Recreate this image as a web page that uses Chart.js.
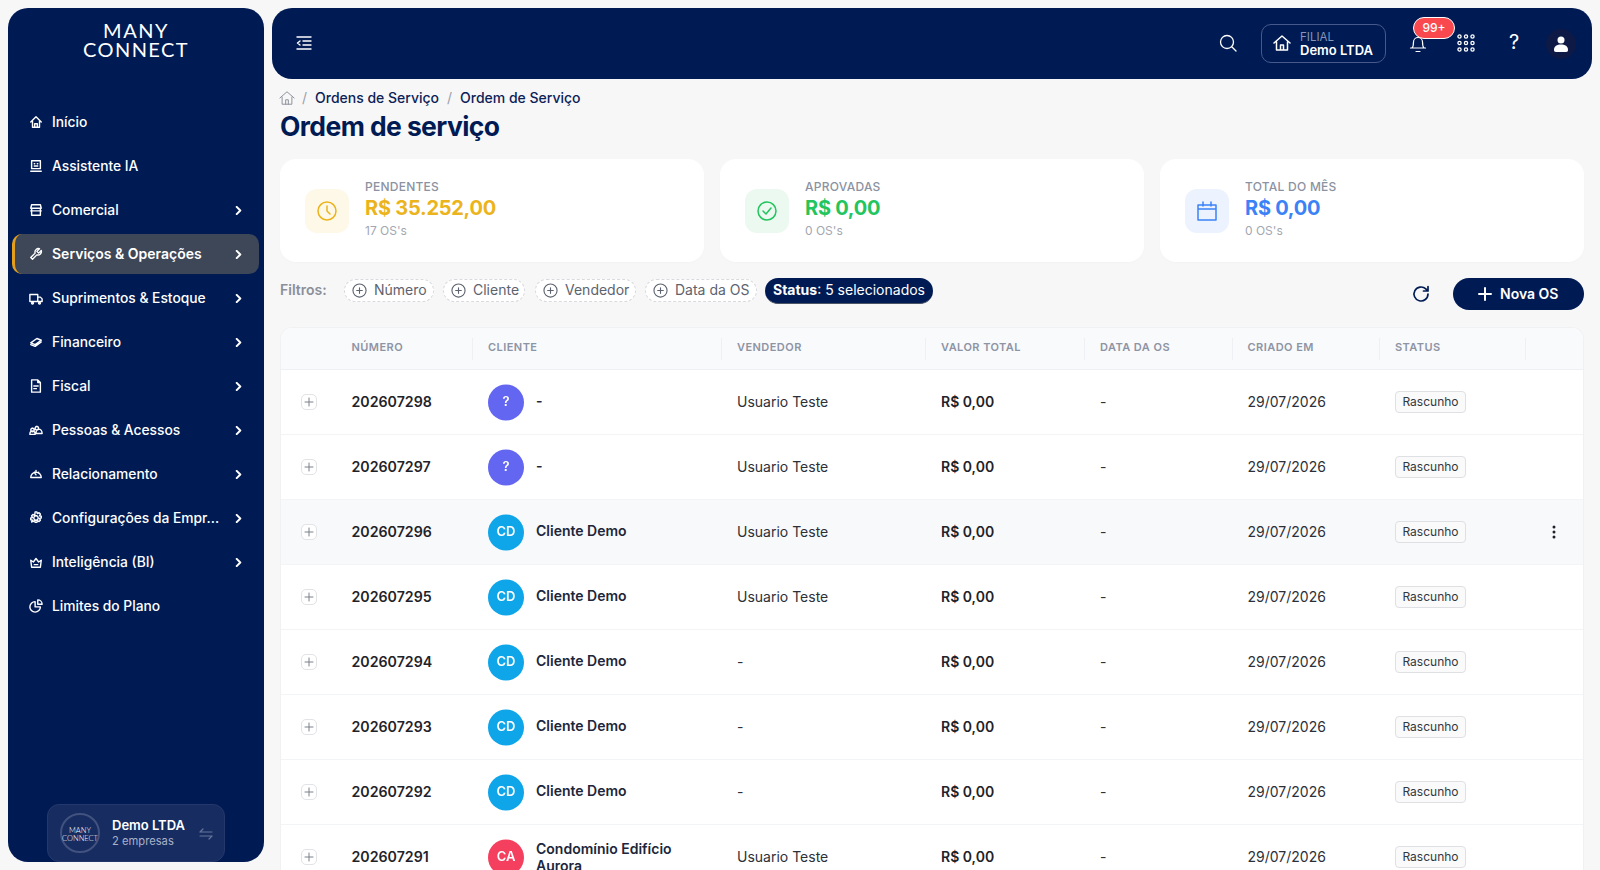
<!DOCTYPE html>
<html lang="pt-BR">
<head>
<meta charset="utf-8">
<title>Ordem de serviço</title>
<script src="https://cdn.jsdelivr.net/npm/chart.js@4/dist/chart.umd.js"></script>
<style>
    * { box-sizing: border-box; }
    html, body { margin: 0; width: 1600px; height: 870px; overflow: hidden; background: #f7f7f8; font-family: Inter, sans-serif; color: #1f2329; }
    .abs, .abs > * { position: absolute; }
    .abs > #menu, .abs > #cards, .abs > #chips { left: 0; top: 0; }
    svg { fill: none; stroke: currentColor; stroke-width: 1.5; stroke-linecap: round; stroke-linejoin: round; }

    #sidebar { left: 8px; top: 8px; width: 256px; height: 854px; background: #001b54; border-radius: 20px; }
    .logo { left: 0; width: 256px; text-align: center; color: #fff; font: 400 20px/17px Lato, sans-serif; }
    .menu { position: absolute; left: 4px; width: 247px; height: 40px; border-radius: 10px; color: #fff; font-size: 13.8px; font-weight: 500; line-height: 40px; }
    .menu.on { background: #3e4758; border-left: 3px solid #e39f1c; font-size: 14px; font-weight: 600; }
    .menu span { position: absolute; left: 40px; white-space: nowrap; }
    .menu.on span { left: 37px; }
    .menu svg { position: absolute; left: 17px; top: 13px; width: 14px; height: 14px; stroke-width: 1.6; }
    .menu.on svg { left: 14px; }
    .menu .chev { left: 222px; top: 16px; width: 9px; height: 9px; stroke-width: 2.2; }
    .menu.on .chev { left: 219px; }
    #empresa { left: 39px; top: 796px; width: 178px; height: 58px; background: #172c61; border: 1px solid #25386b; border-radius: 12px; color: #fff; }
    #empresa .circ { position: absolute; left: 12px; top: 8px; width: 40px; height: 40px; border: 2px solid #42527e; border-radius: 50%; text-align: center; font: 300 7.5px/8px Lato, sans-serif; padding-top: 12px; }

    #topbar { left: 272px; top: 8px; width: 1320px; height: 71px; background: #001b54; border-radius: 20px; color: #fff; }
    #filial { left: 989px; top: 16px; width: 125px; height: 39px; border: 1px solid #47598a; border-radius: 10px; }
    #badge { left: 1141px; top: 9px; width: 42px; height: 22px; background: #f9494f; border: 1px solid #fff; border-radius: 11px; font-size: 12px; font-weight: 500; line-height: 20px; text-align: center; }
    #user { left: 1274px; top: 21px; width: 30px; height: 30px; background: #0e1a45; border-radius: 50%; }

    .crumb { top: 89px; font-size: 14px; font-weight: 500; line-height: 18px; color: #0c2257; white-space: nowrap; }
    .sep { color: #9aa0aa; font-weight: 400; }
    #titulo { left: 280px; top: 109px; font-size: 26.5px; font-weight: 700; letter-spacing: -0.6px; line-height: 34px; color: #001b54; white-space: nowrap; }

    .card { position: absolute; top: 159px; width: 424px; height: 103px; background: #fff; border-radius: 16px; box-shadow: 0 1px 3px rgba(0, 0, 0, .02); }
    .tile { position: absolute; left: 25px; top: 30px; width: 44px; height: 44px; border-radius: 12px; }
    .tile svg { position: absolute; left: 11px; top: 11px; width: 22px; height: 22px; }
    .card .lb { position: absolute; left: 85px; top: 20px; font-size: 12px; line-height: 15px; font-weight: 500; letter-spacing: .25px; color: #8b92a1; white-space: nowrap; }
    .card .val { position: absolute; left: 85px; top: 36px; font-size: 20px; line-height: 26px; font-weight: 700; letter-spacing: -0.25px; white-space: nowrap; }
    .card .sub { position: absolute; left: 85px; top: 64px; font-size: 12px; line-height: 16px; color: #a2a7b2; white-space: nowrap; }

    #filtros { left: 280px; top: 281px; font-size: 14px; font-weight: 600; line-height: 18px; color: #8a8f99; }
    .chip { position: absolute; top: 279px; height: 23px; background: #fff; border: 1px dashed #d9dadd; border-radius: 12px; font-size: 14px; line-height: 20px; color: #5d636e; white-space: nowrap; padding-left: 29px; }
    .chip svg { position: absolute; left: 7px; top: 3px; width: 15px; height: 15px; stroke-width: 1.2; }
    #status { left: 765px; top: 278px; width: 168px; height: 26px; background: #001b54; border-bottom: 1.5px solid #4c5566; border-radius: 13px; color: #fff; font-size: 14px; line-height: 24px; text-align: center; white-space: nowrap; }
    #nova { left: 1453px; top: 278px; width: 131px; height: 32px; background: #001b54; border-radius: 16px; color: #fff; font-size: 14px; font-weight: 600; line-height: 32px; padding-left: 47px; }
    #nova svg { position: absolute; left: 25px; top: 9px; width: 14px; height: 14px; stroke-width: 2; }

    #tabela { left: 280px; top: 327px; width: 1304px; height: 543px; background: #fff; border: 1px solid #f0f1f3; border-bottom: 0; border-radius: 12px 12px 0 0; overflow: hidden; }
    #cab { position: absolute; left: 0; top: 0; width: 1304px; height: 42px; background: #f9fafc; border-bottom: 1px solid #eef0f3; }
    #cab b { position: absolute; top: 12px; font-size: 11px; line-height: 14px; font-weight: 600; letter-spacing: .45px; color: #8d94a4; white-space: nowrap; }
    #cab i { position: absolute; top: 10px; width: 1px; height: 22px; background: #eef0f3; }
    #corpo { position: absolute; left: 0; top: 42px; width: 1304px; height: 520px; }
    .linha { position: absolute; left: 0; width: 1304px; height: 65px; border-bottom: 1px solid #f3f4f6; font-size: 14px; }
    .linha.hover { background: #f8f9fb; }
    .linha > * { position: absolute; top: 0; line-height: 64px; white-space: nowrap; }
    .linha .exp { left: 20px; top: 24px; width: 16px; height: 16px; background: #fff; border: 1px solid #e2e3e6; border-radius: 5px; color: #7b808a; }
    .linha .exp svg { position: absolute; left: 2px; top: 2px; width: 10px; height: 10px; stroke-width: 1; }
    .linha .num { left: 70.5px; font-size: 14.2px; font-weight: 600; }
    .linha .ini { left: 207px; width: 36px; text-align: center; color: #fff; font-size: 13px; font-weight: 600; line-height: 62px; z-index: 2; }
    .linha .nome { left: 255px; width: 165px; white-space: normal; font-weight: 600; color: #20263a; line-height: 62px; }
    .linha .nome.duas { top: 15px; line-height: 17px; }
    .linha .ven { left: 456px; color: #2c3038; }
    .linha .tot { left: 660px; font-weight: 600; }
    .linha .dat { left: 819px; color: #2c3038; }
    .linha .cri { left: 966.500px; color: #2c3038; }
    .linha .st { left: 1114px; top: 21px; width: 71px; height: 22px; background: #fafafa; border: 1px solid #dfe0e3; border-radius: 4px; font-size: 12px; line-height: 20px; text-align: center; color: #33373e; }
    .linha .dots { left: 1271px; top: 24px; width: 4px; height: 16px; }
    #avatares { position: absolute; left: 195px; top: 0; z-index: 1; pointer-events: none; }
</style>
</head>
<body>
<div class="abs" style="inset:0">
    <div id="sidebar" class="abs">
        <div class="logo" style="top:14px;letter-spacing:1.5px">MANY</div>
        <div class="logo" style="top:33px;letter-spacing:1.4px">CONNECT</div>
        <div id="menu"></div>
        <div id="empresa">
            <div class="circ">MANY<br>CONNECT</div>
            <div style="position:absolute;left:64px;top:12px;font-size:13px;font-weight:600;line-height:16px;white-space:nowrap">Demo LTDA</div>
            <div style="position:absolute;left:64px;top:29px;font-size:11.2px;line-height:15px;color:#a9b1c8;white-space:nowrap">2 empresas</div>
            <svg style="position:absolute;left:151px;top:22px;width:14px;height:14px;color:#66749b;stroke-width:1.2" viewBox="0 0 14 14"><path d="M1 5h12M4 2 1 5M1 9h12M10 12l3-3"/></svg>
        </div>
    </div>

    <div id="topbar" class="abs">
        <svg style="left:24px;top:28px;width:16px;height:14px;stroke-width:1.4" viewBox="0 0 16 14"><path d="M1 1h14M7 5h8M7 9h8M1 13h14M4 5 1.5 7 4 9"/></svg>
        <svg style="left:947px;top:26px;width:18px;height:18px;stroke-width:1.3" viewBox="0 0 18 18"><circle cx="8" cy="8" r="6.5"/><path d="m13 13 4 4"/></svg>
        <div id="filial"></div>
        <svg style="left:1001px;top:26px;width:18px;height:18px" viewBox="0 0 18 18"><path d="M1 9 9 2l8 7M3.500 8v8h11V8M7.500 16v-5h3v5"/></svg>
        <div style="left:1028px;top:22px;font-size:11.5px;line-height:14px;color:#8795b6">FILIAL</div>
        <div style="left:1028px;top:34px;font-size:13px;font-weight:600;line-height:16px;white-space:nowrap">Demo LTDA</div>
        <svg style="left:1137px;top:26px;width:18px;height:20px;stroke-width:1.2" viewBox="0 0 18 20"><path d="M3 14c1.500-1.500 1.500-4 1.500-6a4.500 4.500 0 0 1 9 0c0 2 0 4.500 1.500 6zM1.500 14h15M7 17.500h4"/></svg>
        <div id="badge">99+</div>
        <svg style="left:1185px;top:26px;width:18px;height:18px;stroke-width:1.3" viewBox="0 0 18 18"><circle cx="2.500" cy="2.500" r="1.600"/><circle cx="9" cy="2.500" r="1.600"/><circle cx="15.500" cy="2.500" r="1.600"/><circle cx="2.500" cy="9" r="1.600"/><circle cx="9" cy="9" r="1.600"/><circle cx="15.500" cy="9" r="1.600"/><circle cx="2.500" cy="15.500" r="1.600"/><circle cx="9" cy="15.500" r="1.600"/><circle cx="15.500" cy="15.500" r="1.600"/></svg>
        <div style="left:1237px;top:21px;font-size:20px;line-height:26px">?</div>
        <div id="user"></div>
        <svg style="left:1282px;top:28px;width:14px;height:16px;fill:#fff;stroke:none" viewBox="0 0 14 16"><circle cx="7" cy="4" r="3.500"/><path d="M0 14c0-4 3-5.500 7-5.500s7 1.500 7 5.500c0 1-.5 2-2 2H2c-1.500 0-2-1-2-2z"/></svg>
    </div>

    <svg style="left:279px;top:90px;width:16px;height:16px;color:#8b9099;stroke-width:1.1" viewBox="0 0 18 18"><path d="M1 9 9 2l8 7M3.500 8v8h11V8M7.500 16v-5h3v5"/></svg>
    <div class="crumb sep" style="left:302px">/</div>
    <div class="crumb" style="left:315px">Ordens de Serviço</div>
    <div class="crumb sep" style="left:447px">/</div>
    <div class="crumb" style="left:460px">Ordem de Serviço</div>
    <div id="titulo">Ordem de serviço</div>

    <div id="cards"></div>

    <div id="filtros">Filtros:</div>
    <div id="chips"></div>
    <div id="status"><b style="font-weight:700">Status</b>: 5 selecionados</div>
    <svg style="left:1412px;top:285px;width:18px;height:18px;color:#001b54;stroke-width:1.7" viewBox="0 0 18 18"><path d="M16 9a7 7 0 1 1-2.200-5.100L16 6M16 1.500V6h-4.500"/></svg>
    <div id="nova"><svg viewBox="0 0 14 14"><path d="M7 1v12M1 7h12"/></svg>Nova OS</div>

    <div id="tabela">
        <div id="cab"></div>
        <div id="corpo">
            <canvas id="avatares" width="60" height="520"></canvas>
        </div>
    </div>
</div>

<script>
    // menu lateral
    const menuItens = ['Início', 'Assistente IA', 'Comercial', 'Serviços & Operações', 'Suprimentos & Estoque', 'Financeiro', 'Fiscal', 'Pessoas & Acessos', 'Relacionamento', 'Configurações da Empr...', 'Inteligência (BI)', 'Limites do Plano']
    const menuComSeta = [false, false, true, true, true, true, true, true, true, true, true, false]
    const menuAtivo = 'Serviços & Operações'
    const menuIcones = [
        'M2 8l6-6 6 6M4 7v7h8V7M6.500 14v-4h3v4',
        'M3 2h10v9H3zM6 5.500h.5M9.500 5.500h.5M6 8h4M2 14h12',
        'M2 6l1-4h10l1 4zM3 6v8h10V6M2 9h12',
        'M14 4l-3 3-2-2 3-3a4 4 0 0 0-5 5L2 12l2 2 5-5a4 4 0 0 0 5-5z',
        'M1 4h9v8H1zM10 7h3l2 2v3h-5M4 13a1 1 0 1 0 .01 0M12 13a1 1 0 1 0 .01 0',
        'M2 9l7-5 5 2-7 5zM2 11l5 2 7-5',
        'M3 1h7l3 3v11H3zM10 1v3h3M5.500 8h5M5.500 11h3',
        'M4 6a2 2 0 1 0 .01 0M9 4a2 2 0 1 0 .01 0M1 13c0-3 2-4 3-4s3 1 3 4zM8 12c0-3 1-5 3-5s4 2 4 5z',
        'M2 12a6 6 0 1 1 12 0zM6 6l2 3M8 4v1M11 6v1',
        'M8 5.500a2.500 2.500 0 1 0 .01 0M7 1h2l.5 2 2-1 1.500 1.500-1 2 2 .5v2l-2 .5 1 2-1.500 1.500-2-1-.5 2H7l-.5-2-2 1L3 12.500l1-2-2-.5V8l2-.5-1-2L4.500 4l2 1z',
        'M2 6l3 2 3-4 3 4 3-2-1 8H3zM6 11h4',
        'M7 3a6 6 0 1 0 6 6H7zM10 1a5 5 0 0 1 5 5h-5z',
    ]

    // cartoes de resumo
    const resumoRotulos = ['PENDENTES', 'APROVADAS', 'TOTAL DO MÊS']
    const resumoValores = ['R$ 35.252,00', 'R$ 0,00', 'R$ 0,00']
    const resumoQtd = ["17 OS's", "0 OS's", "0 OS's"]
    const resumoCores = ['#ebb41c', '#22c55e', '#3b82f6']
    const resumoFundos = ['#fef8e8', '#ecf9f0', '#ecf3fe']

    // filtros
    const filtros = ['Número', 'Cliente', 'Vendedor', 'Data da OS']

    // tabela
    const colunas = ['NÚMERO', 'CLIENTE', 'VENDEDOR', 'VALOR TOTAL', 'DATA DA OS', 'CRIADO EM', 'STATUS']
    const numeros = ['202607298', '202607297', '202607296', '202607295', '202607294', '202607293', '202607292', '202607291']
    const iniciais = ['?', '?', 'CD', 'CD', 'CD', 'CD', 'CD', 'CA']
    const clientes = ['-', '-', 'Cliente Demo', 'Cliente Demo', 'Cliente Demo', 'Cliente Demo', 'Cliente Demo', 'Condomínio Edifício Aurora']
    const coresAvatar = ['#6366f1', '#6366f1', '#0ea5e9', '#0ea5e9', '#0ea5e9', '#0ea5e9', '#0ea5e9', '#f43f5e']
    const vendedores = ['Usuario Teste', 'Usuario Teste', 'Usuario Teste', 'Usuario Teste', '-', '-', '-', 'Usuario Teste']
    const valoresTotais = ['R$ 0,00', 'R$ 0,00', 'R$ 0,00', 'R$ 0,00', 'R$ 0,00', 'R$ 0,00', 'R$ 0,00', 'R$ 0,00']
    const datasOS = ['-', '-', '-', '-', '-', '-', '-', '-']
    const criadoEm = ['29/07/2026', '29/07/2026', '29/07/2026', '29/07/2026', '29/07/2026', '29/07/2026', '29/07/2026', '29/07/2026']
    const statusLinha = ['Rascunho', 'Rascunho', 'Rascunho', 'Rascunho', 'Rascunho', 'Rascunho', 'Rascunho', 'Rascunho']

    // ========= Partes da pagina ==========

    const svgIcone = (d, box = 16) => `<svg viewBox="0 0 ${box} ${box}"><path d="${d}"/></svg>`

    document.getElementById('menu').innerHTML = menuItens.map((nome, i) => `
        <div class="menu ${nome === menuAtivo ? 'on' : ''}" style="top:${94 + i * 44}px">
            ${svgIcone(menuIcones[i])}<span>${nome}</span>
            ${menuComSeta[i] ? '<svg class="chev" viewBox="0 0 10 10"><path d="M3 1l4 4-4 4"/></svg>' : ''}
        </div>`).join('')

    const iconesResumo = [
        '<circle cx="11" cy="11" r="9"/><path d="M11 6v5l3 3"/>',
        '<circle cx="11" cy="11" r="9"/><path d="m7 11 3 3 5-6"/>',
        '<path d="M2 5h18v15H2zM2 9h18M7 2v4M15 2v4"/>',
    ]
    const cardEsq = [280, 720, 1160]
    document.getElementById('cards').innerHTML = resumoRotulos.map((r, i) => `
        <div class="card" style="left:${cardEsq[i]}px">
            <div class="tile" style="background:${resumoFundos[i]};color:${resumoCores[i]}"><svg viewBox="0 0 22 22">${iconesResumo[i]}</svg></div>
            <div class="lb">${r}</div>
            <div class="val" style="color:${resumoCores[i]}">${resumoValores[i]}</div>
            <div class="sub">${resumoQtd[i]}</div>
        </div>`).join('')

    const chipEsq = [344, 443, 535, 645]
    const chipLarg = [90, 82, 101, 112]
    document.getElementById('chips').innerHTML = filtros.map((f, i) => `
        <div class="chip" style="left:${chipEsq[i]}px;width:${chipLarg[i]}px">
            <svg viewBox="0 0 16 16"><circle cx="8" cy="8" r="7"/><path d="M8 5v6M5 8h6"/></svg>${f}
        </div>`).join('')

    const colEsq = [70.5, 207, 456, 660, 819, 966.5, 1114]
    const sepEsq = [191, 440, 644, 803, 951, 1098, 1244]
    document.getElementById('cab').innerHTML =
        colunas.map((c, i) => `<b style="left:${colEsq[i]}px">${c}</b>`).join('') +
        sepEsq.map(x => `<i style="left:${x}px"></i>`).join('')

    document.getElementById('corpo').insertAdjacentHTML('afterbegin', numeros.map((n, i) => `
        <div class="linha ${i === 2 ? 'hover' : ''}" style="top:${i * 65}px">
            <div class="exp"><svg viewBox="0 0 10 10"><path d="M5 1v8M1 5h8"/></svg></div>
            <div class="num">${n}</div>
            <div class="ini">${iniciais[i]}</div>
            <div class="nome ${clientes[i].length > 20 ? 'duas' : ''}">${clientes[i]}</div>
            <div class="ven">${vendedores[i]}</div>
            <div class="tot">${valoresTotais[i]}</div>
            <div class="dat">${datasOS[i]}</div>
            <div class="cri">${criadoEm[i]}</div>
            <div class="st">${statusLinha[i]}</div>
            ${i === 2 ? '<svg class="dots" viewBox="0 0 4 16" style="fill:#1f2329;stroke:none"><circle cx="2" cy="3" r="1.500"/><circle cx="2" cy="8" r="1.500"/><circle cx="2" cy="13" r="1.500"/></svg>' : ''}
        </div>`).join(''))

    // ========= Avatares dos clientes: um ponto por linha da tabela ==========

    new Chart(document.getElementById('avatares'), {
        type: 'scatter',
        data: {
            datasets: [{
                data: numeros.map(n => ({ x: 'cliente', y: n })),
                backgroundColor: coresAvatar,
                pointRadius: 18,
                borderWidth: 0,
                clip: false,
            }],
        },
        options: {
            responsive: false,
            animation: false,
            events: [],
            layout: { autoPadding: false },
            plugins: { legend: { display: false }, tooltip: { enabled: false } },
            scales: {
                x: { type: 'category', labels: ['cliente'], offset: true, display: false },
                y: { type: 'category', labels: numeros, offset: true, display: false },
            },
        },
    })
</script>
</body>
</html>
